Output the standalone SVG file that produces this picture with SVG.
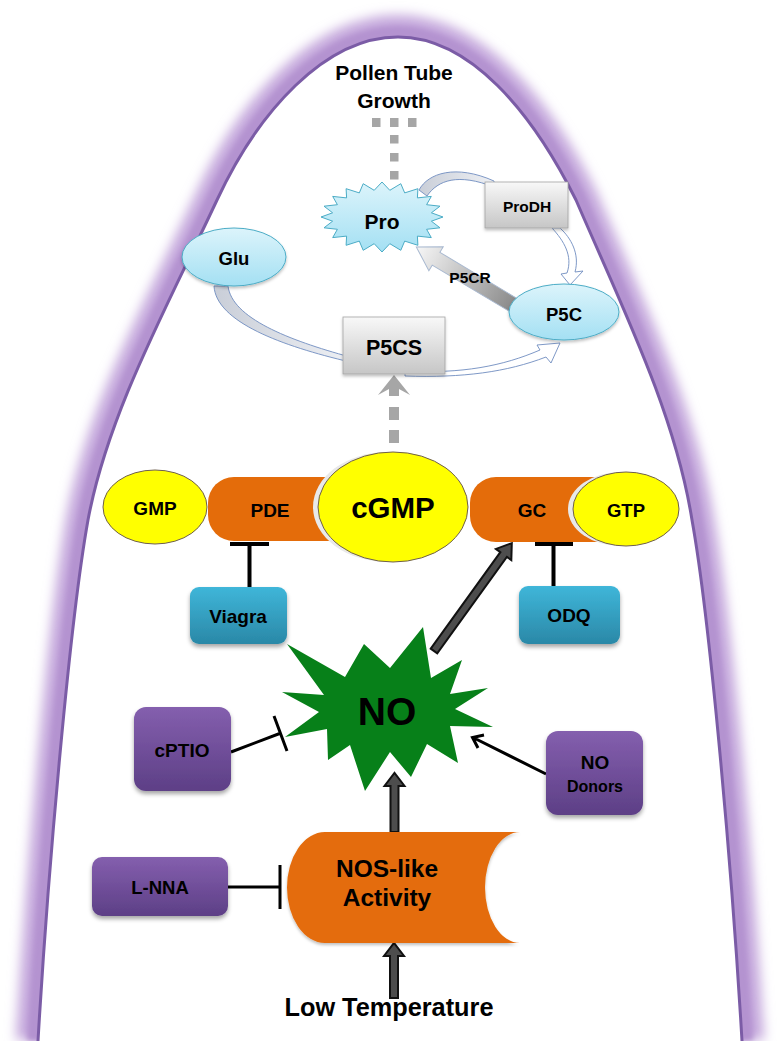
<svg xmlns="http://www.w3.org/2000/svg" width="782" height="1041" viewBox="0 0 782 1041">
<defs>
<style>
text{font-family:"Liberation Sans",Arial,sans-serif;font-weight:bold;fill:#000;text-anchor:middle}
.gray{fill:url(#gGray);stroke:#a3a3a3;stroke-width:0.8}
.lblue{fill:url(#gBlue);stroke:#4bacc6;stroke-width:1}
.yel{fill:#ffff00;stroke:#6e5e4e;stroke-width:1}
.cres{fill:#e9e9e9}
.orange{fill:#e46c0a}
.teal{fill:url(#gTeal)}
.purple{fill:url(#gPurple)}
.inh{stroke:#000;stroke-width:4;fill:none}
.inh2{stroke:#000;stroke-width:3;fill:none}
.blk{fill:#4d4d4d;stroke:#111;stroke-width:2;stroke-linejoin:miter}
.dash{fill:#a6a6a6}
.rib{stroke:#6f8cc0;stroke-width:0.9}
</style>
<linearGradient id="gGray" x1="0" y1="0" x2="0" y2="1"><stop offset="0" stop-color="#f8f8f8"/><stop offset="1" stop-color="#c6c6c6"/></linearGradient>
<linearGradient id="gBlue" x1="0" y1="0" x2="0" y2="1"><stop offset="0" stop-color="#dcf4fb"/><stop offset="1" stop-color="#a4e0f3"/></linearGradient>
<linearGradient id="gTeal" x1="0" y1="0" x2="0" y2="1"><stop offset="0" stop-color="#3fb6d9"/><stop offset="1" stop-color="#2a88a7"/></linearGradient>
<linearGradient id="gPurple" x1="0" y1="0" x2="0" y2="1"><stop offset="0" stop-color="#845fae"/><stop offset="1" stop-color="#5d3f86"/></linearGradient>
<linearGradient id="gP5CR" x1="0" y1="0" x2="1" y2="0"><stop offset="0" stop-color="#888"/><stop offset="1" stop-color="#f7f7f7"/></linearGradient>
<linearGradient id="gRib" x1="0" y1="0" x2="1" y2="0"><stop offset="0" stop-color="#c9ced8"/><stop offset="1" stop-color="#eef0f4"/></linearGradient>
<filter id="glow" filterUnits="userSpaceOnUse" x="0" y="0" width="782" height="1041"><feGaussianBlur stdDeviation="6"/></filter>
<filter id="glow2" filterUnits="userSpaceOnUse" x="0" y="0" width="782" height="1041"><feGaussianBlur stdDeviation="2.5"/></filter>
<filter id="sh" x="-20%" y="-20%" width="140%" height="150%"><feDropShadow dx="0" dy="3" stdDeviation="2.2" flood-color="#000" flood-opacity="0.35"/></filter>
<filter id="shl" x="-20%" y="-20%" width="140%" height="150%"><feDropShadow dx="0" dy="2" stdDeviation="1.5" flood-color="#000" flood-opacity="0.25"/></filter>
</defs>

<g id="membrane">
<path d="M 38,1041 C 48,870 70,620 88,520 C 108,413 167,307 217,200 C 258,112 325,37 398,37 C 470,37 532,112 576,200 C 622,307 675,413 692,520 C 710,620 732,870 742,1041" fill="none" stroke="#c4a7dc" stroke-width="44" filter="url(#glow)"/>
<path d="M 38,1041 C 48,870 70,620 88,520 C 108,413 167,307 217,200 C 258,112 325,37 398,37 C 470,37 532,112 576,200 C 622,307 675,413 692,520 C 710,620 732,870 742,1041" fill="none" stroke="#b493d0" stroke-width="22" filter="url(#glow2)"/>
<path d="M 38,1041 C 48,870 70,620 88,520 C 108,413 167,307 217,200 C 258,112 325,37 398,37 C 470,37 532,112 576,200 C 622,307 675,413 692,520 C 710,620 732,870 742,1041 Z" fill="#fff"/>
<path d="M 38,1041 C 48,870 70,620 88,520 C 108,413 167,307 217,200 C 258,112 325,37 398,37 C 470,37 532,112 576,200 C 622,307 675,413 692,520 C 710,620 732,870 742,1041" fill="none" stroke="#7b5ca6" stroke-width="3"/>
</g>

<g id="title">
<text x="394" y="80" font-size="21">Pollen Tube</text>
<text x="394" y="108" font-size="21">Growth</text>
</g>

<g id="connectors">
<rect class="dash" x="372" y="118" width="8.5" height="9"/>
<rect class="dash" x="390" y="118" width="8.5" height="9"/>
<rect class="dash" x="408" y="118" width="8.5" height="9"/>
<rect class="dash" x="390" y="135" width="8.5" height="8.5"/>
<rect class="dash" x="390" y="153" width="8.5" height="8.5"/>
<rect class="dash" x="390" y="171" width="8.5" height="8.5"/>
<path class="rib" fill="url(#gRib)" d="M 419,190 C 428,173 456,164 494,181 L 494,187 C 458,173 438,180 427,196 Z"/>
<path class="rib" fill="#fff" d="M 552,228 C 564,241 573,256 567,273 L 561,274 L 570,285 L 583,271 L 575,272 C 580,254 571,238 560,228 Z"/>
<path class="rib" fill="url(#gRib)" d="M 214,286 C 216,322 282,346 350,362 L 350,357 C 288,340 232,318 228,286 Z"/>
<path class="rib" fill="#fff" d="M 405,371 C 462,374 503,366 540,350 L 537,345 L 560,343 L 551,363 L 546,357 C 507,372 463,378 405,376 Z"/>
<path fill="url(#gP5CR)" stroke="#a9b9d0" stroke-width="1" transform="translate(515,306) rotate(210.9)" d="M0,-7.5 L92,-7.5 L92,-14 L115,0 L92,14 L92,7.5 L0,7.5 Z"/>
<text x="470" y="282.5" font-size="15.5">P5CR</text>
<path class="dash" d="M394,375 L410,395 L399,389 L399,396 L389,396 L389,389 L378,395 Z"/>
<rect class="dash" x="389" y="407" width="10" height="13"/>
<rect class="dash" x="389" y="430" width="10" height="13"/>
<path class="inh" d="M230,544 L269,544 M249.5,544 L249.5,588"/>
<path class="inh" d="M535,544 L573,544 M553.5,544 L553.5,587"/>
<path class="blk" transform="translate(434,651) rotate(-54.2)" d="M0,-4 L119,-4 L119,-9.5 L133,0 L119,9.5 L119,4 L0,4 Z"/>
<path class="inh2" d="M231,752 L281,733 M274,716 L287,751"/>
<path class="inh2" d="M546,774 L473,737.5 M478,748 L472.5,737.5 L484,735"/>
<path class="blk" transform="translate(394.5,832) rotate(-90)" d="M0,-4 L46,-4 L46,-10 L59,0 L46,10 L46,4 L0,4 Z"/>
<path class="inh2" d="M228,887 L280,887 M280,865 L280,909"/>
<path class="blk" transform="translate(394,998) rotate(-90)" d="M0,-4 L42,-4 L42,-10 L55,0 L42,10 L42,4 L0,4 Z"/>
</g>

<g id="Pro">
<polygon class="lblue" points="443,217 431.4,221.2 440,227.8 426.6,229.3 431.3,237.6 417.4,236.1 417.9,245.3 404.7,241.1 400.8,250.3 389.8,243.7 382,252 374.2,243.7 363.2,250.3 359.3,241.1 346.1,245.3 346.6,236.1 332.7,237.6 337.4,229.3 324,227.8 332.6,221.2 321,217 332.6,212.8 324,206.2 337.4,204.7 332.7,196.4 346.6,197.9 346.1,188.7 359.3,192.9 363.2,183.7 374.2,190.3 382,182 389.8,190.3 400.8,183.7 404.7,192.9 417.9,188.7 417.4,197.9 431.3,196.4 426.6,204.7 440,206.2 431.4,212.8"/>
<text x="382" y="229" font-size="21">Pro</text>
</g>
<g id="ProDH">
<rect class="gray" x="485" y="182" width="83" height="46" filter="url(#shl)"/>
<text x="527" y="211.5" font-size="15.5">ProDH</text>
</g>
<g id="Glu">
<ellipse class="lblue" cx="234" cy="257" rx="52" ry="29" filter="url(#shl)"/>
<text x="234" y="265" font-size="18.5">Glu</text>
</g>
<g id="P5C">
<ellipse class="lblue" cx="564" cy="312" rx="55" ry="28" filter="url(#shl)"/>
<text x="564" y="321" font-size="18.5">P5C</text>
</g>
<g id="P5CS">
<rect class="gray" x="343" y="317" width="102" height="57" filter="url(#shl)"/>
<text x="394" y="354.5" font-size="21.5">P5CS</text>
</g>

<g id="PDE">
<path class="orange" d="M345,477 L234,477 A26,26 0 0 0 208,503 L208,515 A26,26 0 0 0 234,541 L345,541 Z"/>
<text x="270" y="516.5" font-size="19">PDE</text>
</g>
<g id="GC">
<path class="orange" d="M600,477 L496,477 A26,26 0 0 0 470,503 L470,516 A26,26 0 0 0 496,542 L600,542 Z"/>
<text x="532" y="517" font-size="19">GC</text>
</g>
<g id="GMP">
<ellipse class="yel" cx="155" cy="507" rx="52" ry="37"/>
<text x="155" y="514.5" font-size="19">GMP</text>
</g>
<g id="cGMP">
<ellipse class="cres" cx="388" cy="507" rx="75" ry="55"/>
<ellipse class="yel" cx="393" cy="507" rx="75" ry="55"/>
<text x="393" y="518" font-size="29.5">cGMP</text>
</g>
<g id="GTP">
<ellipse class="cres" cx="621" cy="509" rx="53" ry="37"/>
<ellipse class="yel" cx="626" cy="509" rx="53" ry="37"/>
<text x="626" y="516.5" font-size="18.5">GTP</text>
</g>
<g id="Viagra">
<rect class="teal" x="190" y="587" width="97" height="57" rx="9" filter="url(#sh)"/>
<text x="238" y="623" font-size="19">Viagra</text>
</g>
<g id="ODQ">
<rect class="teal" x="519" y="586" width="101" height="58" rx="9" filter="url(#sh)"/>
<text x="569" y="622" font-size="19">ODQ</text>
</g>

<g id="NO">
<polygon fill="#078019" points="287,644 345,677 364,644 390,668 423,627 431,678 462,660 450,694 488,688 455,709 493,727 450,726 458,763 427,744 411,777 390,752 365,791 350,745 328,760 327,729 285,737 319,712 282,692 324,695"/>
<text x="387" y="725" font-size="39">NO</text>
</g>
<g id="cPTIO">
<rect class="purple" x="134" y="707" width="97" height="84" rx="12" filter="url(#sh)"/>
<text x="182" y="757" font-size="19">cPTIO</text>
</g>
<g id="NODonors">
<rect class="purple" x="546" y="731" width="97" height="84" rx="12" filter="url(#sh)"/>
<text x="595" y="769" font-size="19">NO</text>
<text x="595" y="792" font-size="16">Donors</text>
</g>
<g id="NOS">
<path class="orange" filter="url(#shl)" d="M325,832 L520,832 A35,55.5 0 0 0 520,943 L325,943 A38,55.5 0 0 1 325,832 Z"/>
<text x="387" y="877" font-size="24.5">NOS-like</text>
<text x="387" y="906" font-size="24.5">Activity</text>
</g>
<g id="LNNA">
<rect class="purple" x="92" y="857" width="136" height="59" rx="10" filter="url(#sh)"/>
<text x="160" y="894" font-size="18.5">L-NNA</text>
</g>
<g id="LowTemp">
<text x="389" y="1016" font-size="25.3">Low Temperature</text>
</g>
</svg>
